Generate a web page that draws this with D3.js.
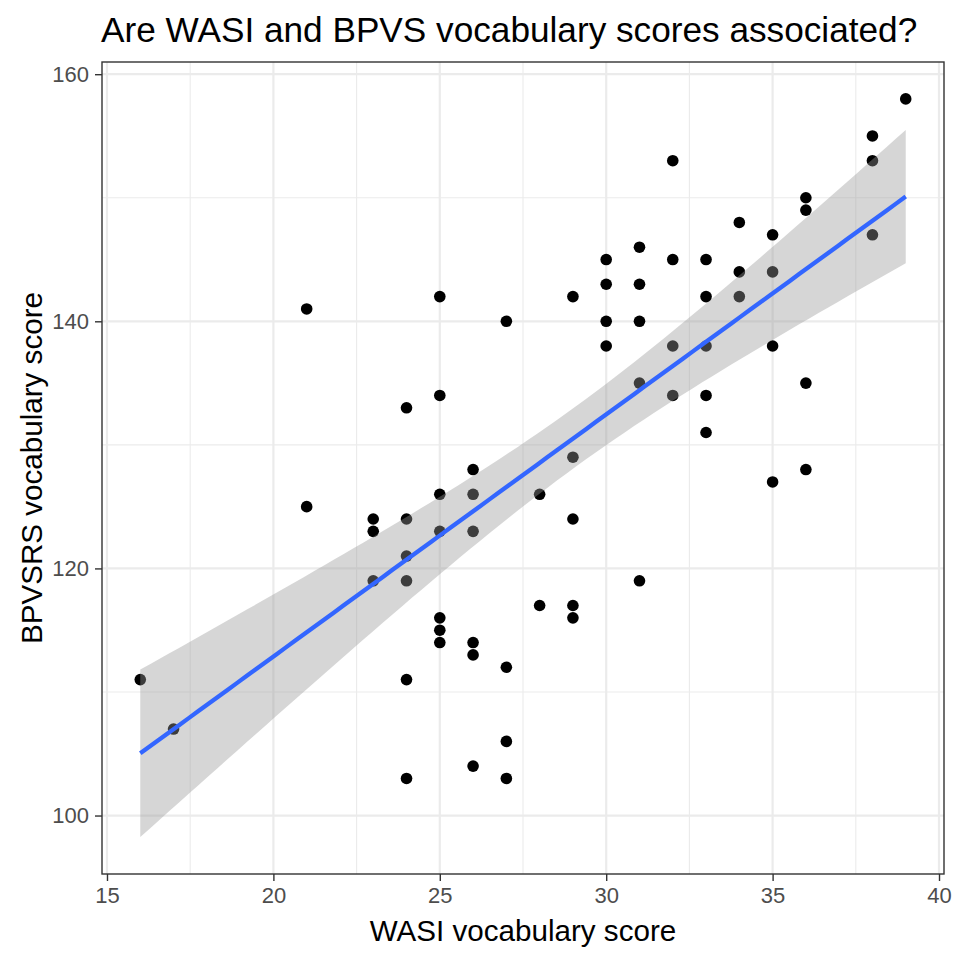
<!DOCTYPE html>
<html>
<head>
<meta charset="utf-8">
<script src="https://cdn.jsdelivr.net/npm/d3@7"></script>
<style>
  body { margin: 0; background: #fff; }
  text { font-family: "Liberation Sans", Arial, Helvetica, sans-serif; }
</style>
</head>
<body>
<div id="chart"></div>
<script>
// WASI score and its BPVSRS scores (one entry per child)
const wasi = [
  16, 17, 21, 21,
  23, 23, 23,
  24, 24, 24, 24, 24, 24,
  25, 25, 25, 25, 25, 25, 25,
  26, 26, 26, 26, 26, 26,
  27, 27, 27, 27,
  28, 28,
  29, 29, 29, 29, 29,
  30, 30, 30, 30,
  31, 31, 31, 31, 31,
  32, 32, 32, 32,
  33, 33, 33, 33, 33,
  34, 34, 34,
  35, 35, 35, 35,
  36, 36, 36, 36,
  38, 38, 38,
  39
];
const bpvs = [
  111, 107, 141, 125,
  124, 123, 119,
  133, 124, 121, 119, 111, 103,
  142, 134, 126, 123, 116, 115, 114,
  128, 126, 123, 114, 113, 104,
  140, 112, 106, 103,
  126, 117,
  142, 129, 124, 117, 116,
  145, 143, 140, 138,
  146, 143, 140, 135, 119,
  153, 145, 138, 134,
  145, 142, 138, 134, 131,
  148, 144, 142,
  147, 144, 138, 127,
  150, 149, 135, 128,
  155, 153, 147,
  158
];
const xTicks = [15, 20, 25, 30, 35, 40];
const xMinor = [17.5, 22.5, 27.5, 32.5, 37.5];
const yTicks = [100, 120, 140, 160];
const yMinor = [110, 130, 150];

const titleText = 'Are WASI and BPVS vocabulary scores associated?';
const xTitle = 'WASI vocabulary score';
const yTitle = 'BPVSRS vocabulary score';

const W = 960, H = 960;
const margin = { top: 62, right: 16, bottom: 86, left: 102 };
const width = W - margin.left - margin.right;
const height = H - margin.top - margin.bottom;

const data = wasi.map((x, i) => ({ x: x, y: bpvs[i] }));

// ---- linear model with 95% confidence band (like geom_smooth(method = "lm")) ----
const n = data.length;
const xbar = d3.mean(data, d => d.x);
const ybar = d3.mean(data, d => d.y);
const sxx = d3.sum(data, d => (d.x - xbar) ** 2);
const sxy = d3.sum(data, d => (d.x - xbar) * (d.y - ybar));
const slope = sxy / sxx;
const intercept = ybar - slope * xbar;
const rss = d3.sum(data, d => (d.y - intercept - slope * d.x) ** 2);
const sigma = Math.sqrt(rss / (n - 2));
const tCrit = 1.995; // t(0.975, df = 68)

const xExtent = d3.extent(data, d => d.x);
const fit = d3.range(80).map(i => {
  const x = xExtent[0] + (xExtent[1] - xExtent[0]) * i / 79;
  const yhat = intercept + slope * x;
  const se = sigma * Math.sqrt(1 / n + (x - xbar) ** 2 / sxx);
  return { x: x, y: yhat, lo: yhat - tCrit * se, hi: yhat + tCrit * se };
});

const yLo = Math.min(d3.min(data, d => d.y), d3.min(fit, d => d.lo));
const yHi = Math.max(d3.max(data, d => d.y), d3.max(fit, d => d.hi));
const xPad = (xExtent[1] - xExtent[0]) * 0.05;
const yPad = (yHi - yLo) * 0.05;

const x = d3.scaleLinear().domain([xExtent[0] - xPad, xExtent[1] + xPad]).range([0, width]);
const y = d3.scaleLinear().domain([yLo - yPad, yHi + yPad]).range([height, 0]);

const svg = d3.select('#chart').append('svg')
  .attr('width', W)
  .attr('height', H);

svg.append('rect').attr('width', W).attr('height', H).attr('fill', '#fff');

const chart = svg.append('g')
  .attr('transform', `translate(${margin.left},${margin.top})`);

// grid
chart.selectAll('.minor-x').data(xMinor).join('line')
  .attr('x1', d => x(d)).attr('x2', d => x(d))
  .attr('y1', 0).attr('y2', height)
  .attr('stroke', '#ebebeb').attr('stroke-width', 1.1);
chart.selectAll('.minor-y').data(yMinor).join('line')
  .attr('y1', d => y(d)).attr('y2', d => y(d))
  .attr('x1', 0).attr('x2', width)
  .attr('stroke', '#ebebeb').attr('stroke-width', 1.1);
chart.selectAll('.major-x').data(xTicks).join('line')
  .attr('x1', d => x(d)).attr('x2', d => x(d))
  .attr('y1', 0).attr('y2', height)
  .attr('stroke', '#ebebeb').attr('stroke-width', 2.2);
chart.selectAll('.major-y').data(yTicks).join('line')
  .attr('y1', d => y(d)).attr('y2', d => y(d))
  .attr('x1', 0).attr('x2', width)
  .attr('stroke', '#ebebeb').attr('stroke-width', 2.2);

// points
chart.selectAll('.pt').data(data).join('circle')
  .attr('class', 'pt')
  .attr('cx', d => x(d.x))
  .attr('cy', d => y(d.y))
  .attr('r', 5.8)
  .attr('fill', '#000');

// confidence ribbon
const ribbon = d3.area()
  .x(d => x(d.x))
  .y0(d => y(d.lo))
  .y1(d => y(d.hi));
chart.append('path')
  .datum(fit)
  .attr('d', ribbon)
  .attr('fill', '#999999')
  .attr('fill-opacity', 0.4);

// fitted line
chart.append('path')
  .datum(fit)
  .attr('d', d3.line().x(d => x(d.x)).y(d => y(d.y)))
  .attr('fill', 'none')
  .attr('stroke', '#3366ff')
  .attr('stroke-width', 4.3);

// panel border
chart.append('rect')
  .attr('width', width).attr('height', height)
  .attr('fill', 'none')
  .attr('stroke', '#333333')
  .attr('stroke-width', 1.4);

// axes
const xAxis = chart.append('g')
  .attr('transform', `translate(0,${height})`)
  .call(d3.axisBottom(x).tickValues(xTicks).tickSize(7).tickPadding(6));
const yAxis = chart.append('g')
  .call(d3.axisLeft(y).tickValues(yTicks).tickSize(7).tickPadding(6));
[xAxis, yAxis].forEach(a => {
  a.select('.domain').remove();
  a.selectAll('.tick line').attr('stroke', '#333333').attr('stroke-width', 1.4);
  a.selectAll('.tick text')
    .attr('fill', '#4d4d4d')
    .style('font-size', '22px')
    .style('font-family', '"Liberation Sans", Arial, sans-serif');
});

// titles
svg.append('text')
  .attr('x', margin.left - 1)
  .attr('y', 42)
  .attr('fill', '#000')
  .style('font-size', '35.2px')
  .text(titleText);

svg.append('text')
  .attr('x', margin.left + width / 2)
  .attr('y', 941)
  .attr('text-anchor', 'middle')
  .attr('fill', '#000')
  .style('font-size', '29.6px')
  .text(xTitle);

svg.append('text')
  .attr('transform', `translate(42,${margin.top + height / 2}) rotate(-90)`)
  .attr('text-anchor', 'middle')
  .attr('fill', '#000')
  .style('font-size', '29.6px')
  .text(yTitle);
</script>
</body>
</html>
